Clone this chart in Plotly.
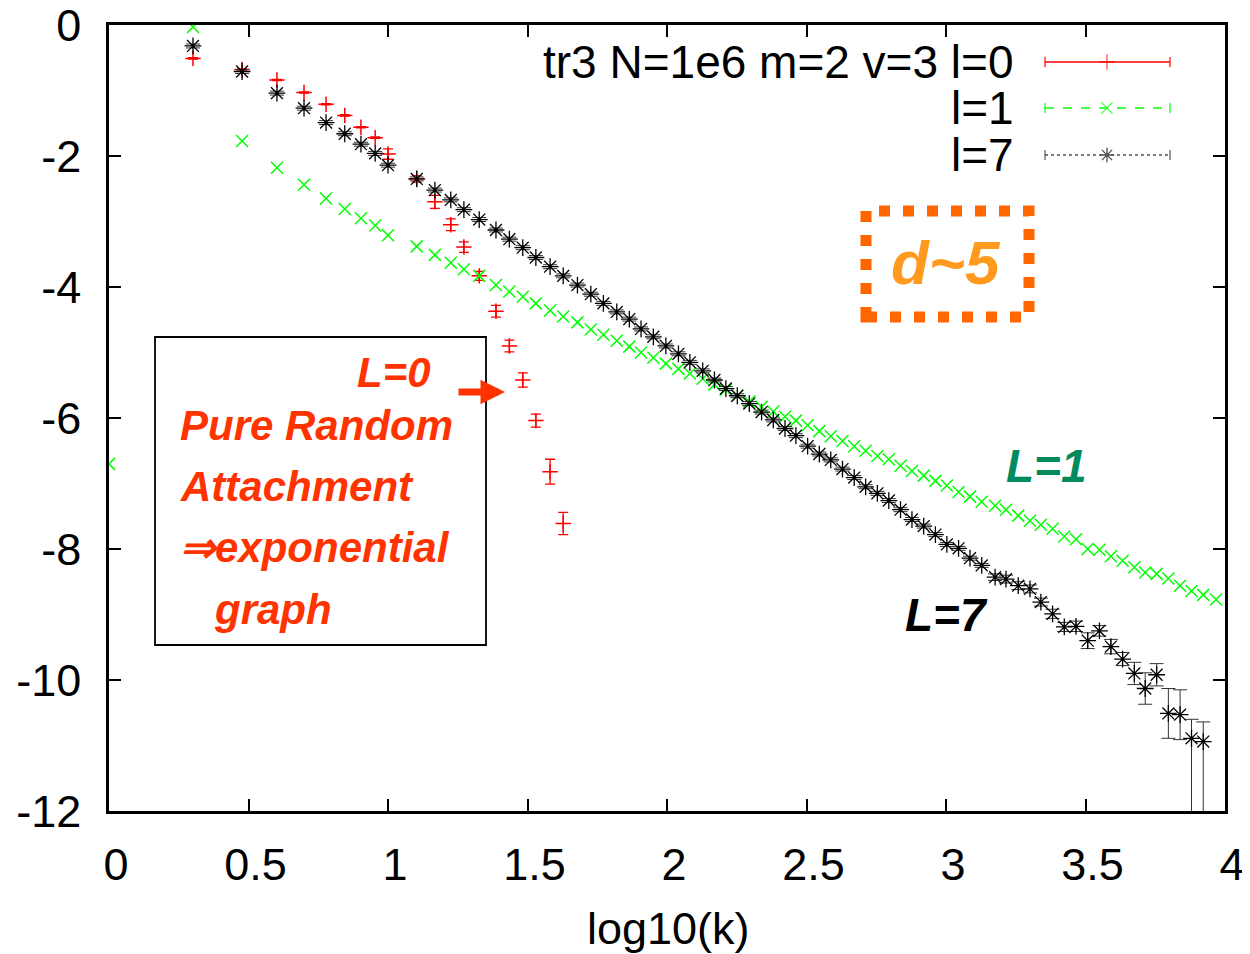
import plotly.graph_objects as go

# ---------------- data ----------------
log_k = [0.000, 0.301, 0.477, 0.602, 0.699, 0.778, 0.845, 0.903, 0.954, 1.000,
         1.103, 1.168, 1.225, 1.272, 1.327, 1.387, 1.435, 1.483, 1.530, 1.581,
         1.628, 1.679, 1.727, 1.772, 1.820, 1.865, 1.907, 1.951, 1.996, 2.041,
         2.082, 2.128, 2.170, 2.211, 2.252, 2.295, 2.339, 2.381, 2.423, 2.462,
         2.504, 2.546, 2.587, 2.629, 2.671, 2.712, 2.754, 2.795, 2.837, 2.878,
         2.920, 2.962, 3.003, 3.045, 3.086, 3.128, 3.176, 3.215, 3.259, 3.301,
         3.340, 3.382, 3.424, 3.466, 3.508, 3.550, 3.591, 3.633, 3.675, 3.714,
         3.755, 3.797, 3.839, 3.880, 3.922, 3.968]

# l=0 (pure random attachment): bins 1..20
l0_y = [-0.51, -0.68, -0.84, -1.03, -1.21, -1.38, -1.56, -1.72, -1.97, -2.35,
        -2.70, -3.05, -3.39, -3.83, -4.37, -4.90, -5.42, -6.04, -6.82, -7.61]
l0_err = [0.01, 0.01, 0.01, 0.01, 0.01, 0.01, 0.01, 0.01, 0.08, 0.05,
          0.10, 0.09, 0.08, 0.07, 0.09, 0.09, 0.11, 0.10, 0.19, 0.17]

# l=1: all bins
l1_y = [-6.70, -0.03, -1.77, -2.18, -2.44, -2.65, -2.81, -2.95, -3.06, -3.21,
        -3.38, -3.51, -3.63, -3.73, -3.83, -3.97, -4.07, -4.15, -4.25, -4.36,
        -4.45, -4.54, -4.65, -4.73, -4.82, -4.91, -5.00, -5.08, -5.17, -5.25,
        -5.32, -5.40, -5.49, -5.57, -5.66, -5.75, -5.83, -5.90, -5.98, -6.04,
        -6.11, -6.20, -6.28, -6.35, -6.43, -6.50, -6.58, -6.63, -6.73, -6.81,
        -6.88, -6.96, -7.03, -7.13, -7.20, -7.28, -7.34, -7.40, -7.49, -7.57,
        -7.63, -7.69, -7.81, -7.85, -8.00, -8.01, -8.11, -8.18, -8.28, -8.36,
        -8.38, -8.45, -8.56, -8.64, -8.70, -8.77]

# l=7: bins 1..74
l7_y = [-0.32, -0.71, -1.04, -1.27, -1.49, -1.66, -1.82, -1.96, -2.14, -2.35,
        -2.52, -2.67, -2.82, -2.97, -3.13, -3.27, -3.40, -3.55, -3.69, -3.83,
        -3.97, -4.11, -4.25, -4.38, -4.49, -4.64, -4.76, -4.90, -5.02, -5.15,
        -5.28, -5.42, -5.55, -5.66, -5.78, -5.91, -6.03, -6.16, -6.27, -6.43,
        -6.55, -6.64, -6.78, -6.91, -7.05, -7.15, -7.26, -7.40, -7.55, -7.65,
        -7.78, -7.93, -7.99, -8.14, -8.25, -8.43, -8.46, -8.56, -8.61, -8.81,
        -8.99, -9.19, -9.18, -9.40, -9.25, -9.49, -9.68, -9.90, -10.13, -9.92,
        -10.51, -10.53, -10.89, -10.94]
l7_err_plus = [0.03] * 55 + [0.05, 0.06, 0.06, 0.06, 0.06, 0.07, 0.07, 0.08,
                             0.12, 0.08, 0.11, 0.10, 0.17, 0.24, 0.17, 0.38,
                             0.38, 0.29, 0.30]
l7_err_minus = [0.03] * 55 + [0.05, 0.06, 0.06, 0.06, 0.06, 0.07, 0.07, 0.08,
                              0.12, 0.08, 0.11, 0.10, 0.17, 0.24, 0.17, 0.38,
                              0.38, 1.50, 1.50]

x_ticks = [0, 0.5, 1, 1.5, 2, 2.5, 3, 3.5, 4]
x_tick_text = ["0", "0.5", "1", "1.5", "2", "2.5", "3", "3.5", "4"]
y_ticks = [0, -2, -4, -6, -8, -10, -12]
y_tick_text = ["0", "-2", "-4", "-6", "-8", "-10", "-12"]

legend_labels = ["tr3 N=1e6 m=2 v=3 l=0", "l=1", "l=7"]

# ---------------- layout geometry ----------------
# the page body adds an 8px margin, so the figure is laid out 8px smaller
OFF = 8
W, H = 1250 - OFF, 954 - OFF
ML, MR, MT, MB = 109 - OFF, 25, 25 - OFF, 143
PW, PH = W - ML - MR, H - MT - MB


def px(x):
    # screen pixel x -> paper fraction
    return (x - OFF - ML) / PW


def py(y):
    # screen pixel y -> paper fraction
    return (H - MB - (y - OFF)) / PH


FONT = "Liberation Sans, Arial, sans-serif"
RED = "#ff0000"
GREEN = "#00ff00"
ORANGE_RED = "#ff3300"

fig = go.Figure()

fig.add_trace(go.Scatter(
    x=log_k[1:21], y=l0_y, mode="markers", name=legend_labels[0],
    marker=dict(symbol="cross-thin-open", size=11, color=RED,
                line=dict(color=RED, width=1.5)),
    error_y=dict(type="data", array=l0_err, color=RED, thickness=1.3, width=5),
    showlegend=False))

fig.add_trace(go.Scatter(
    x=log_k, y=l1_y, mode="markers", name=legend_labels[1],
    marker=dict(symbol="x-thin-open", size=12, color=GREEN,
                line=dict(color=GREEN, width=1.5)),
    showlegend=False))

fig.add_trace(go.Scatter(
    x=log_k[1:75], y=l7_y, mode="markers", name=legend_labels[2],
    marker=dict(symbol="asterisk-open", size=14, color="black",
                line=dict(color="black", width=1.3)),
    error_y=dict(type="data", symmetric=False, array=l7_err_plus,
                 arrayminus=l7_err_minus, color="#333333", thickness=1, width=7),
    cliponaxis=True, showlegend=False))

# legend sample markers on an overlay axis in plot-area fractions
legend_rows = [62, 108, 155]
fig.add_trace(go.Scatter(
    x=[px(1107)] * 3, y=[py(r) for r in legend_rows], xaxis="x2", yaxis="y2",
    mode="markers", showlegend=False, hoverinfo="skip",
    marker=dict(symbol=["cross-thin-open", "x-thin-open", "asterisk-open"],
                size=[11, 11, 12], color=[RED, GREEN, "black"],
                line=dict(color=[RED, GREEN, "black"], width=1.3))))

shapes = []
sample_styles = [(RED, "solid", 1.3), (GREEN, "dash", 1.3), ("#555555", "dot", 1.3)]
for r, (col, dash, w) in zip(legend_rows, sample_styles):
    shapes.append(dict(type="line", xref="paper", yref="paper",
                       x0=px(1045), x1=px(1170), y0=py(r), y1=py(r),
                       line=dict(color=col, width=w, dash=dash)))
    for cx in (1045, 1170):
        shapes.append(dict(type="line", xref="paper", yref="paper",
                           x0=px(cx), x1=px(cx), y0=py(r - 5), y1=py(r + 5),
                           line=dict(color=col, width=1.2)))

# annotation box (L=0)
shapes.append(dict(type="rect", xref="paper", yref="paper",
                   x0=px(155), x1=px(486), y0=py(645), y1=py(337),
                   line=dict(color="black", width=1.8), fillcolor="rgba(0,0,0,0)"))
# dotted orange box around d~5
shapes.append(dict(type="rect", xref="paper", yref="paper",
                   x0=px(866), x1=px(1029), y0=py(317), y1=py(211),
                   line=dict(color="#ff6600", width=11, dash="11px,13px"),
                   fillcolor="rgba(0,0,0,0)"))

annotations = []
# legend text
for r, lab in zip(legend_rows, legend_labels):
    annotations.append(dict(xref="paper", yref="paper", x=px(1016), y=py(r),
                            xanchor="right", yanchor="middle", text=lab,
                            showarrow=False, font=dict(family=FONT, size=46, color="black")))

# box text
box_lines = [("L=0", 394, 373, "center"),
             ("Pure Random", 178, 425, "left"),
             ("Attachment", 178, 486, "left"),
             ("\u21d2exponential", 178, 547, "left"),
             ("graph", 212, 609, "left")]
for txt, x, y, anc in box_lines:
    annotations.append(dict(xref="paper", yref="paper", x=px(x), y=py(y),
                            xanchor=anc, yanchor="middle",
                            text="<b><i>" + txt + "</i></b>", showarrow=False,
                            font=dict(family=FONT, size=42, color=ORANGE_RED)))
# arrow
annotations.append(dict(xref="paper", yref="paper", x=px(505), y=py(392),
                        ax=-48, ay=0, text="", showarrow=True, arrowhead=2,
                        arrowsize=0.7, arrowwidth=7, arrowcolor=ORANGE_RED))

annotations.append(dict(xref="paper", yref="paper", x=px(1046), y=py(466),
                        xanchor="center", yanchor="middle",
                        text="<b><i>L=1</i></b>", showarrow=False,
                        font=dict(family=FONT, size=46, color="#008a5e")))
annotations.append(dict(xref="paper", yref="paper", x=px(946), y=py(615),
                        xanchor="center", yanchor="middle",
                        text="<b><i>L=7</i></b>", showarrow=False,
                        font=dict(family=FONT, size=46, color="black")))
annotations.append(dict(xref="paper", yref="paper", x=px(946), y=py(262),
                        xanchor="center", yanchor="middle",
                        text="<b><i>d~5</i></b>", showarrow=False,
                        font=dict(family=FONT, size=62, color="#ff9a1f")))
# x axis title
annotations.append(dict(xref="paper", yref="paper", x=px(668), y=py(928),
                        xanchor="center", yanchor="middle",
                        text="log10(k)", showarrow=False,
                        font=dict(family=FONT, size=45, color="black")))

axis_common = dict(showgrid=False, zeroline=False, showline=True, linecolor="black",
                   linewidth=2.5, mirror="ticks", ticks="inside", ticklen=12,
                   tickwidth=2, tickcolor="black", automargin=False,
                   ticklabeloverflow="allow",
                   tickfont=dict(family=FONT, size=45, color="black"))

fig.update_layout(
    width=W, height=H,
    margin=dict(l=ML, r=MR, t=MT, b=MB, pad=0, autoexpand=False),
    paper_bgcolor="white", plot_bgcolor="white",
    xaxis=dict(range=[0, 4], tickvals=x_ticks, ticktext=x_tick_text,
               ticklabelstandoff=12, ticklabelshift=7, **axis_common),
    yaxis=dict(range=[-12, 0], tickvals=y_ticks, ticktext=y_tick_text,
               ticklabelstandoff=16, **axis_common),
    xaxis2=dict(overlaying="x", range=[0, 1], visible=False),
    yaxis2=dict(overlaying="y", range=[0, 1], visible=False),
    shapes=shapes, annotations=annotations, showlegend=False,
)

fig.write_html("out.html")
